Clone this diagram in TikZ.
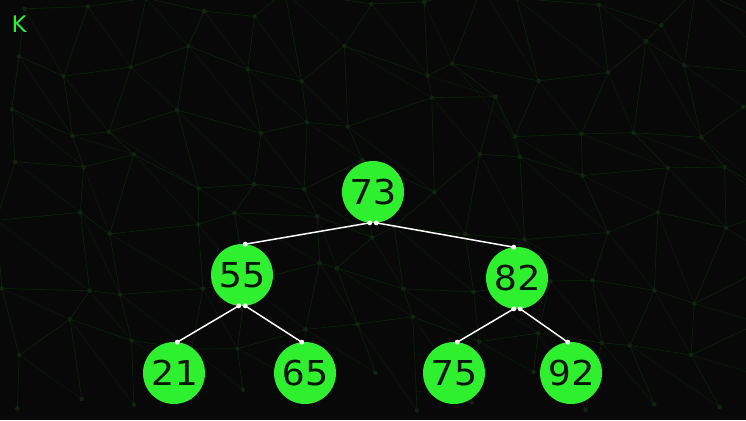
\documentclass[tikz,border=0pt]{standalone}
\usepackage{fontspec}
\usepackage{tikz}
\newfontfamily\numfont[FakeStretch=1.12]{DejaVu Sans Mono}
\newfontfamily\markfont{DejaVu Sans}
\definecolor{BGcolor}{HTML}{070807}
\definecolor{NETcolor}{HTML}{0E260E}
\definecolor{KEYcolor}{HTML}{2EF02E}
\definecolor{TXTcolor}{HTML}{0A140A}

\tikzset{
  keynode/.style={circle, fill=KEYcolor, minimum size=1.24cm, inner sep=0pt, outer sep=0pt,
    text=TXTcolor, font=\numfont\fontsize{19.5}{19.5}\selectfont},
  link/.style={white, line width=0.85pt},
  joint/.style={white}
}

\begin{document}
\begin{tikzpicture}[x=0.02cm, y=-0.02cm]
  \useasboundingbox (0,0) rectangle (746,420);
  \fill[BGcolor] (0,0) rectangle (746,420);

  \pgfmathsetseed{11}
  \foreach \i in {0,...,13} {
    \foreach \j in {0,...,7} {
      \pgfmathsetmacro{\px}{\i*58 + 10 + rand*22}
      \pgfmathsetmacro{\py}{\j*55 + 8 + rand*22}
      \coordinate (g-\i-\j) at (\px,\py);
      \fill[NETcolor] (g-\i-\j) circle (1.3pt);
    }
  }
  \foreach \i in {0,...,12} {
    \foreach \j in {0,...,6} {
      \pgfmathtruncatemacro{\ni}{\i+1}
      \pgfmathtruncatemacro{\nj}{\j+1}
      \draw[NETcolor, line width=0.4pt, opacity=0.8] (g-\i-\j) -- (g-\ni-\j);
      \draw[NETcolor, line width=0.4pt, opacity=0.8] (g-\i-\j) -- (g-\i-\nj);
      \draw[NETcolor, line width=0.4pt, opacity=0.5] (g-\i-\j) -- (g-\ni-\nj);
    }
  }

  \node[text=KEYcolor, font=\markfont\fontsize{13}{13}\selectfont] (mark) at (19,24) {K};

  \foreach \k/\x/\y in {73/373/192, 55/242/275, 82/517/278,
    21/174/373, 65/305/373, 75/454/373, 92/571/373} {
    \node[keynode] (n\k) at (\x,\y) {\k};
  }

  \foreach \p/\c/\a/\b in {73/55/264/84, 73/82/276/96, 55/21/264/84,
    55/65/276/96, 82/75/264/84, 82/92/276/96} {
    \draw[link] (n\p.\a) -- (n\c.\b);
    \fill[joint] (n\p.\a) circle (1.4pt);
    \fill[joint] (n\c.\b) circle (1.4pt);
  }
\end{tikzpicture}
\end{document}
